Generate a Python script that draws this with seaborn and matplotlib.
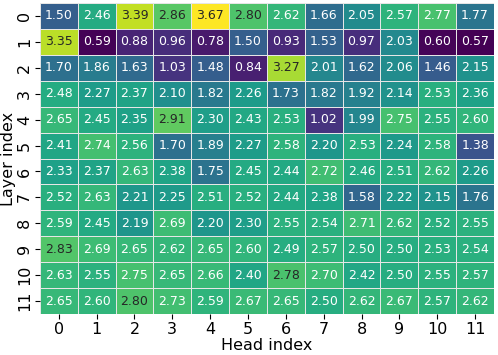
import numpy as np
import pandas as pd
import matplotlib
matplotlib.use("Agg")
import matplotlib.pyplot as plt
import seaborn as sns

heads = list(range(12))
layers = list(range(12))

row_0 = [1.50, 2.46, 3.39, 2.86, 3.67, 2.80, 2.62, 1.66, 2.05, 2.57, 2.77, 1.77]
row_1 = [3.35, 0.59, 0.88, 0.96, 0.78, 1.50, 0.93, 1.53, 0.97, 2.03, 0.60, 0.57]
row_2 = [1.70, 1.86, 1.63, 1.03, 1.48, 0.84, 3.27, 2.01, 1.62, 2.06, 1.46, 2.15]
row_3 = [2.48, 2.27, 2.37, 2.10, 1.82, 2.26, 1.73, 1.82, 1.92, 2.14, 2.53, 2.36]
row_4 = [2.65, 2.45, 2.35, 2.91, 2.30, 2.43, 2.53, 1.02, 1.99, 2.75, 2.55, 2.60]
row_5 = [2.41, 2.74, 2.56, 1.70, 1.89, 2.27, 2.58, 2.20, 2.53, 2.24, 2.58, 1.38]
row_6 = [2.33, 2.37, 2.63, 2.38, 1.75, 2.45, 2.44, 2.72, 2.46, 2.51, 2.62, 2.26]
row_7 = [2.52, 2.63, 2.21, 2.25, 2.51, 2.52, 2.44, 2.38, 1.58, 2.22, 2.15, 1.76]
row_8 = [2.59, 2.45, 2.19, 2.69, 2.20, 2.30, 2.55, 2.54, 2.71, 2.62, 2.52, 2.55]
row_9 = [2.83, 2.69, 2.65, 2.62, 2.65, 2.60, 2.49, 2.57, 2.50, 2.50, 2.53, 2.54]
row_10 = [2.63, 2.55, 2.75, 2.65, 2.66, 2.40, 2.78, 2.70, 2.42, 2.50, 2.55, 2.57]
row_11 = [2.65, 2.60, 2.80, 2.73, 2.59, 2.67, 2.65, 2.50, 2.62, 2.67, 2.57, 2.62]

rows = [row_0, row_1, row_2, row_3, row_4, row_5,
        row_6, row_7, row_8, row_9, row_10, row_11]
df = pd.DataFrame(rows, index=layers, columns=heads)

fig, ax = plt.subplots(figsize=(4.98, 3.55), dpi=100)
sns.heatmap(df, ax=ax, cmap="viridis", annot=True, fmt=".2f",
            annot_kws={"fontsize": 9}, cbar=False,
            linewidths=0.5, linecolor="#e6e6e6")
ax.set_xlabel("Head index", fontsize=11.5, labelpad=1)
ax.set_ylabel("Layer index", fontsize=11.5, labelpad=1)
ax.tick_params(axis="both", labelsize=11.5, pad=2)
plt.setp(ax.get_yticklabels(), rotation=90, va="center")
plt.setp(ax.get_xticklabels(), rotation=0)
plt.subplots_adjust(left=0.080, right=0.992, top=0.992, bottom=0.115)
plt.savefig("out.png", dpi=100)
